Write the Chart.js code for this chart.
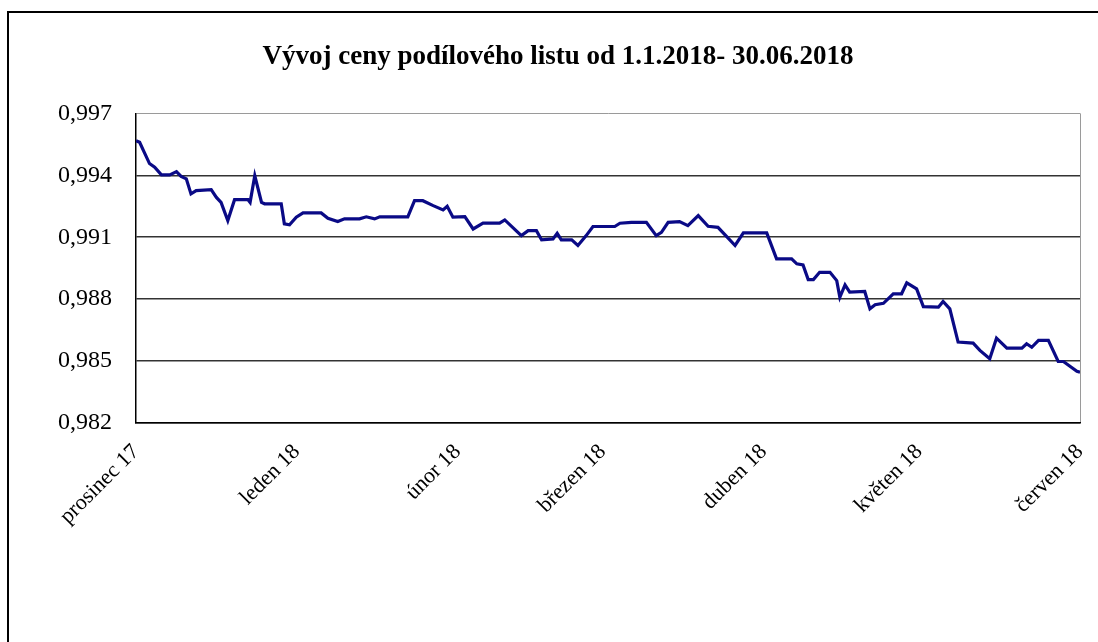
<!DOCTYPE html>
<html>
<head>
<meta charset="utf-8">
<script src="https://cdn.jsdelivr.net/npm/chart.js@4.4.1/dist/chart.umd.min.js"></script>
<style>
  html, body { margin: 0; padding: 0; background: #fff; }
  .wrap { position: relative; width: 1098px; height: 642px; overflow: hidden; }
  .frame { position: absolute; left: 7px; top: 11px; width: 1200px; height: 700px; border-left: 2px solid #000; border-top: 2px solid #000; }
  canvas { position: absolute; left: 0; top: 0; }
</style>
</head>
<body>
<div class="wrap">
  <div class="frame"></div>
  <canvas id="chart" width="1098" height="642"></canvas>
</div>
<script>
// ── Data (day offsets from 1.12.2017, price) ────────────────────────────────
const days = [
  0, 0.7, 1.6, 2.6, 3.6, 4.9, 6.5, 7.8, 8.7, 9.7, 10.6, 11.6, 14.5, 15.5, 16.4, 17.7,
  19.0, 21.6, 22.0, 22.9, 24.2, 24.8, 28.0, 28.6, 29.6, 30.9, 32.2, 35.7, 37.0, 38.9,
  40.2, 43.1, 44.4, 46.0, 47.0, 52.4, 53.7, 55.3, 57.3, 59.2, 60.0, 61.1, 63.4, 65.0,
  66.9, 70.1, 71.1, 74.3, 75.6, 77.2, 78.2, 80.4, 81.2, 82.0, 84.0, 85.2, 86.8, 88.1,
  92.3, 93.3, 95.5, 98.4, 100.3, 101.3, 102.6, 104.8, 106.4, 108.4, 110.3, 112.2,
  113.8, 115.5, 117.1, 121.6, 123.5, 126.4, 127.4, 128.6, 129.6, 130.6, 131.8, 133.8,
  135.1, 135.7, 136.7, 137.6, 140.5, 141.5, 142.5, 144.1, 146.0, 147.6, 148.6, 150.5,
  151.8, 154.7, 155.6, 156.9, 158.5, 161.4, 162.7, 164.6, 165.9, 167.9, 170.8, 171.7,
  172.7, 174.0, 175.9, 177.8, 178.8, 181.4, 182
];
const prices = [
  0.99568, 0.99560, 0.99511, 0.99457, 0.99439, 0.99402, 0.99402, 0.99418, 0.99395, 0.99383,
  0.99310, 0.99326, 0.99331, 0.99293, 0.99269, 0.99181, 0.99282, 0.99282, 0.99269, 0.99398,
  0.99269, 0.99262, 0.99262, 0.99165, 0.99160, 0.99197, 0.99218, 0.99218, 0.99192, 0.99176,
  0.99189, 0.99189, 0.99199, 0.99189, 0.99199, 0.99199, 0.99277, 0.99277, 0.99253, 0.99232,
  0.99250, 0.99197, 0.99200, 0.99140, 0.99168, 0.99168, 0.99184, 0.99108, 0.99132, 0.99132,
  0.99087, 0.99092, 0.99119, 0.99087, 0.99087, 0.99060, 0.99108, 0.99152, 0.99152, 0.99168,
  0.99172, 0.99172, 0.99108, 0.99124, 0.99172, 0.99176, 0.99156, 0.99205, 0.99153, 0.99148,
  0.99105, 0.99060, 0.99121, 0.99121, 0.98995, 0.98995, 0.98971, 0.98966, 0.98895, 0.98895,
  0.98930, 0.98930, 0.98890, 0.98809, 0.98869, 0.98834, 0.98837, 0.98753, 0.98773, 0.98780,
  0.98826, 0.98826, 0.98879, 0.98850, 0.98764, 0.98761, 0.98789, 0.98753, 0.98592, 0.98587,
  0.98552, 0.98511, 0.98611, 0.98563, 0.98563, 0.98584, 0.98567, 0.98600, 0.98600, 0.98498,
  0.98498, 0.98450, 0.98446
];
const monthDays   = [0, 31, 62, 90, 121, 151, 182];
const monthLabels = ['prosinec 17', 'leden 18', 'únor 18', 'březen 18', 'duben 18', 'květen 18', 'červen 18'];
const yTicks      = [0.982, 0.985, 0.988, 0.991, 0.994, 0.997];

const serif = '"Liberation Serif", "Times New Roman", serif';

new Chart(document.getElementById('chart'), {
  type: 'line',
  data: {
    datasets: [{
      data: days.map((d, i) => ({ x: d, y: prices[i] })),
      borderColor: '#0a0a86',
      borderWidth: 3.2,
      pointRadius: 0,
      tension: 0,
      fill: false
    }]
  },
  options: {
    responsive: false,
    animation: false,
    layout: { padding: { left: 36, right: 18, top: 0, bottom: 0 } },
    plugins: {
      legend: { display: false },
      tooltip: { enabled: false },
      title: {
        display: true,
        text: 'Vývoj ceny podílového listu od 1.1.2018- 30.06.2018',
        color: '#000',
        font: { family: serif, size: 27, weight: 'bold' },
        padding: { top: 41, bottom: 40 }
      }
    },
    scales: {
      x: {
        type: 'linear',
        min: 0,
        max: 182,
        afterBuildTicks: s => { s.ticks = monthDays.map(v => ({ value: v })); },
        // fixed height; drop the extra side room the rotated labels ask for
        afterFit: s => { s.height = 219; s.paddingRight = 0; s.paddingLeft = 0; },
        grid: {
          drawTicks: false,
          lineWidth: 1,
          color: c => c.index === monthDays.length - 1 ? '#9a9a9a' : 'rgba(0,0,0,0)'
        },
        border: { color: '#000', width: 1.5 },
        ticks: {
          minRotation: 45,
          maxRotation: 45,
          autoSkip: false,
          padding: 16,
          color: '#000',
          font: { family: serif, size: 22 },
          callback: (v, i) => monthLabels[i]
        }
      },
      y: {
        min: 0.982,
        max: 0.997,
        afterBuildTicks: s => { s.ticks = yTicks.map(v => ({ value: v })); },
        afterFit: s => { s.width = 100; },
        grid: {
          drawTicks: false,
          lineWidth: c => c.index === yTicks.length - 1 ? 1 : 1.5,
          color: c => c.index === yTicks.length - 1 ? '#9a9a9a' : '#333'
        },
        border: { color: '#000', width: 1.5 },
        ticks: {
          padding: 24,
          color: '#000',
          font: { family: serif, size: 24 },
          callback: v => v.toFixed(3).replace('.', ',')
        }
      }
    }
  }
});
</script>
</body>
</html>
